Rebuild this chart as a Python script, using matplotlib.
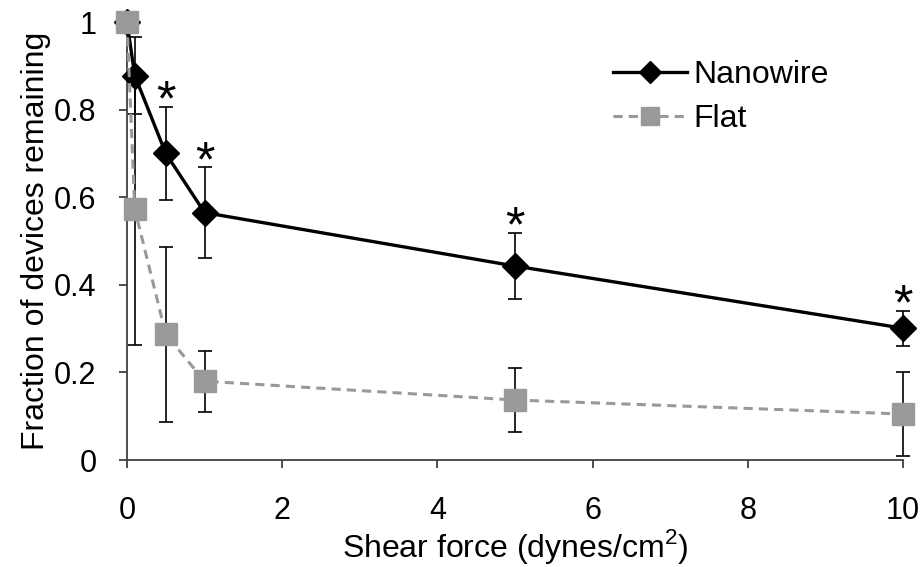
import numpy as np
import matplotlib
matplotlib.use("Agg")
import matplotlib.pyplot as plt

plt.rcParams['font.family'] = ['Liberation Sans', 'DejaVu Sans']
plt.rcParams['mathtext.fontset'] = 'custom'
plt.rcParams['mathtext.rm'] = 'Liberation Sans'

# Datos
shear = [0, 0.1, 0.5, 1, 5, 10]

nanowire = [1.0, 0.878, 0.700, 0.565, 0.443, 0.301]
nanowire_err = [0.0, 0.087, 0.106, 0.103, 0.076, 0.040]

flat = [1.0, 0.573, 0.287, 0.180, 0.137, 0.105]
flat_err = [0.0, 0.31, 0.20, 0.07, 0.074, 0.096]

# puntos con diferencia significativa (asterisco)
signif = [False, False, True, True, True, True]

x_ticks = [0, 2, 4, 6, 8, 10]
y_ticks = [0, 0.2, 0.4, 0.6, 0.8, 1.0]
y_ticklabels = ["0", "0.2", "0.4", "0.6", "0.8", "1"]

fig = plt.figure(figsize=(9.23, 5.67), dpi=100)
ax = fig.add_axes([0.1376, 0.1887, 0.8407, 0.7723])

# barras de error (detras de los marcadores)
ax.errorbar(shear, nanowire, yerr=nanowire_err, fmt='none', ecolor='black',
            elinewidth=1.2, capsize=4.8, capthick=1.2, zorder=1, clip_on=False)
ax.errorbar(shear, flat, yerr=flat_err, fmt='none', ecolor='black',
            elinewidth=1.2, capsize=4.8, capthick=1.2, zorder=1, clip_on=False)

ax.plot(shear, nanowire, color='black', lw=2.4, marker='D', markersize=13.5,
        markerfacecolor='black', markeredgecolor='black', label='Nanowire',
        zorder=3, clip_on=False)
ax.plot(shear, flat, color='#999999', lw=2.2, ls=(0, (3, 2)), marker='s',
        markersize=15.5, markerfacecolor='#999999', markeredgecolor='#999999',
        label='Flat', zorder=4, clip_on=False)

for xi, yi, ei, s in zip(shear, nanowire, nanowire_err, signif):
    if s:
        ax.text(xi, yi + ei - 0.02, '*', ha='center', va='baseline',
                fontsize=36, color='black')

ax.set_xlim(0, 10)
ax.set_ylim(0, 1)
ax.set_xticks(x_ticks)
ax.set_xticklabels([str(t) for t in x_ticks])
ax.set_yticks(y_ticks)
ax.set_yticklabels(y_ticklabels)

for lado in ['top', 'right']:
    ax.spines[lado].set_visible(False)
for lado in ['left', 'bottom']:
    ax.spines[lado].set_color('#404040')
    ax.spines[lado].set_linewidth(1.3)

ax.tick_params(axis='both', direction='out', length=6, width=1.3,
               color='#404040', labelsize=22)
ax.tick_params(axis='y', pad=16)
ax.tick_params(axis='x', pad=20)

ax.set_xlabel(r'Shear force (dynes/cm$^{2}$)', fontsize=23)
ax.set_ylabel('Fraction of devices remaining', fontsize=23)
ax.xaxis.set_label_coords(0.5, -0.152)
ax.yaxis.set_label_coords(-0.098, 0.5)

leg = ax.legend(loc='upper left', bbox_to_anchor=(0.61, 0.943), frameon=False,
                fontsize=23, handlelength=2.3, handletextpad=0.2,
                labelspacing=0.45, borderaxespad=0, markerscale=0.8)

fig.savefig('out.png', dpi=100)
